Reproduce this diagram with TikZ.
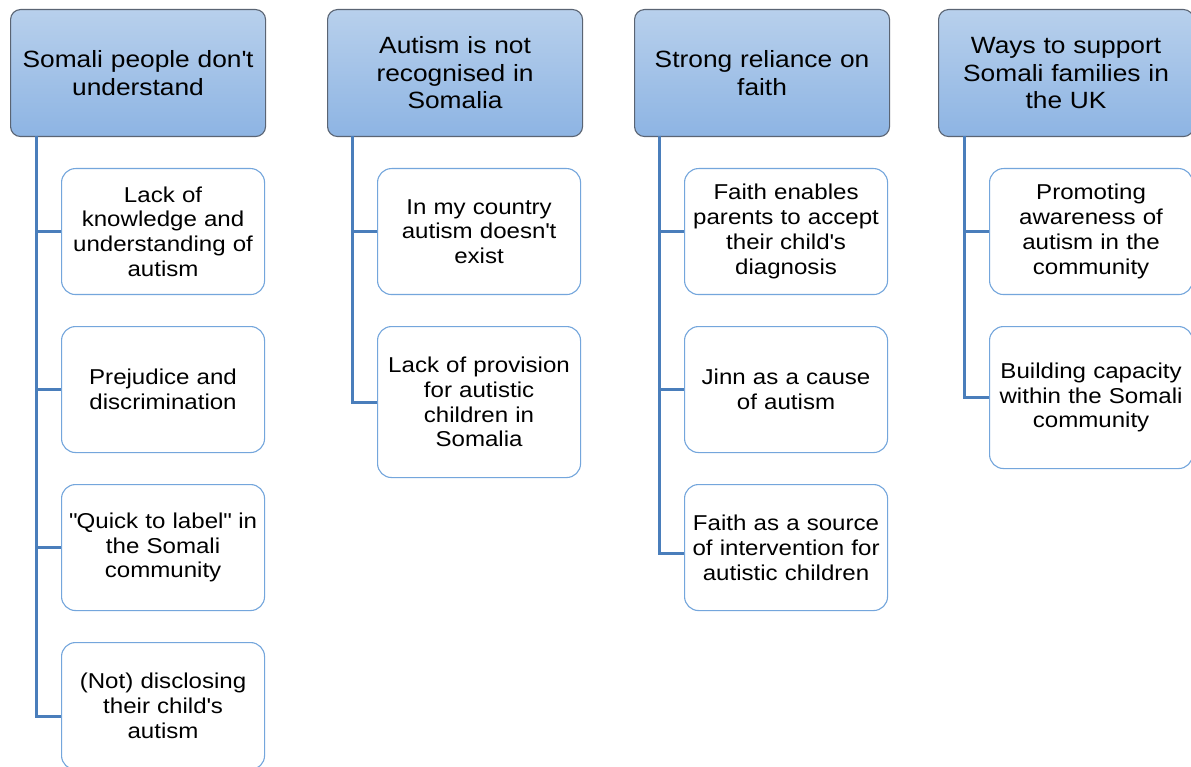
\documentclass[tikz,border=0pt]{standalone}
\usepackage{fontspec}
\setmainfont{Liberation Sans}[FakeStretch=1.12]
\definecolor{hdtop}{RGB}{184,208,236}
\definecolor{hdbot}{RGB}{141,180,227}
\definecolor{hdline}{RGB}{90,100,115}
\definecolor{chline}{RGB}{116,166,220}
\definecolor{conn}{RGB}{74,126,187}
\newcommand{\sq}{\textquotesingle}
\newcommand{\dq}{\textquotedbl}
\tikzset{
  head/.style={anchor=north west, rounded corners=10pt, draw=hdline, line width=1.1pt,
    top color=hdtop, bottom color=hdbot, minimum width=255pt, minimum height=127pt,
    inner sep=0pt, align=center, text width=245pt,
    font=\fontsize{23.5}{27.5}\selectfont},
  child/.style={anchor=north west, rounded corners=14pt, draw=chline, line width=1.1pt,
    fill=white, minimum width=203pt, minimum height=126pt, inner sep=0pt,
    align=center, text width=195pt, font=\fontsize{21.5}{24.8}\selectfont},
  link/.style={draw=conn, line width=3pt}
}
\begin{document}
\begin{tikzpicture}[x=1pt,y=-1pt]
\clip (0,0) rectangle (1191,767);
\useasboundingbox (0,0) rectangle (1191,767);
\fill[white] (0,0) rectangle (1191,767);
% headers
\node[head] (h1) at (10,9) {Somali people don\sq t\\understand};
\node[head] (h2) at (327,9) {Autism is not\\recognised in\\Somalia};
\node[head] (h3) at (634,9) {Strong reliance on\\faith};
\node[head] (h4) at (938,9) {Ways to support\\Somali families in\\the UK};
% anchor points for trunks
\coordinate (t1) at (36,136);
\coordinate (t2) at (352,136);
\coordinate (t3) at (659,136);
\coordinate (t4) at (964,136);
% column 1
\node[child] (c1a) at (61,168) {Lack of\\knowledge and\\understanding of\\autism};
\node[child] (c1b) at (61,326) {Prejudice and\\discrimination};
\node[child] (c1c) at (61,484) {\dq Quick to label\dq\ in\\the Somali\\community};
\node[child, minimum height=127pt] (c1d) at (61,642) {(Not) disclosing\\their child\sq s\\autism};
% column 2
\node[child] (c2a) at (377,168) {In my country\\autism doesn\sq t\\exist};
\node[child, minimum height=151pt] (c2b) at (377,326) {Lack of provision\\for autistic\\children in\\Somalia};
% column 3
\node[child] (c3a) at (684,168) {Faith enables\\parents to accept\\their child\sq s\\diagnosis};
\node[child] (c3b) at (684,326) {Jinn as a cause\\of autism};
\node[child] (c3c) at (684,484) {Faith as a source\\of intervention for\\autistic children};
% column 4
\node[child] (c4a) at (989,168) {Promoting\\awareness of\\autism in the\\community};
\node[child, minimum height=142pt] (c4b) at (989,326) {Building capacity\\within the Somali\\community};
% connectors
\draw[link] (t1) |- (c1a.west);
\draw[link] (t1) |- (c1b.west);
\draw[link] (t1) |- (c1c.west);
\draw[link] (t1) |- ([yshift=-10pt]c1d.west);
\draw[link] (t2) |- (c2a.west);
\draw[link] (t2) |- (c2b.west);
\draw[link] (t3) |- (c3a.west);
\draw[link] (t3) |- (c3b.west);
\draw[link] (t3) |- ([yshift=-6pt]c3c.west);
\draw[link] (t4) |- (c4a.west);
\draw[link] (t4) |- (c4b.west);
\end{tikzpicture}
\end{document}
